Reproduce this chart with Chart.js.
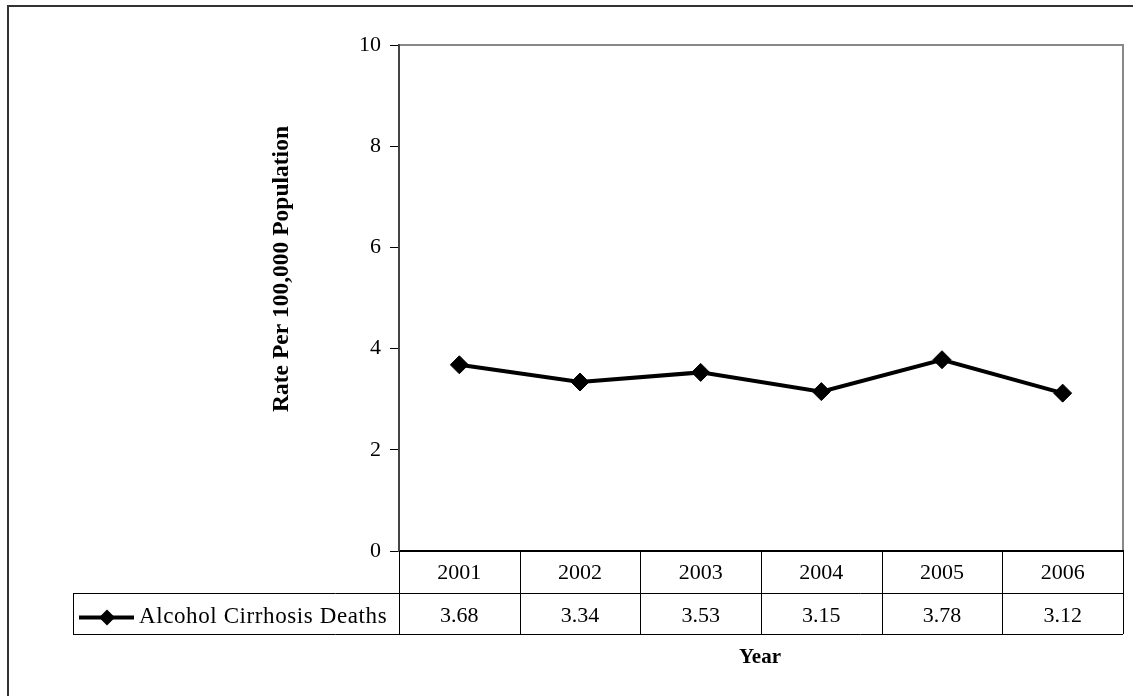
<!DOCTYPE html>
<html>
<head>
<meta charset="utf-8">
<title>Alcohol Cirrhosis Deaths</title>
<script src="https://cdn.jsdelivr.net/npm/chart.js@4/dist/chart.umd.min.js"></script>
<style>
    html, body { margin: 0; padding: 0; background: #fff; }
    canvas { display: block; }
</style>
</head>
<body>
<canvas id="deathChart" width="1133" height="696"></canvas>
<script>
// data
var years = ['2001', '2002', '2003', '2004', '2005', '2006'];
var deathRates = [3.68, 3.34, 3.53, 3.15, 3.78, 3.12];
var seriesLabel = 'Alcohol Cirrhosis Deaths';
var yTitle = 'Rate Per 100,000 Population';
var xTitle = 'Year';
var yMin = 0, yMax = 10, yStep = 2;

var serif = "'Liberation Serif', 'Times New Roman', serif";
Chart.defaults.font.family = serif;
Chart.defaults.color = '#000';

// frame, titles and the data table under the plot (Excel style)
var tablePlugin = {
    id: 'tablePlugin',
    beforeDraw: function (chart) {
        var ctx = chart.ctx;
        var area = chart.chartArea;
        ctx.save();
        // outer chart border, runs off the right and bottom edges
        ctx.strokeStyle = '#333';
        ctx.lineWidth = 2;
        ctx.strokeRect(8, 6, 1300, 900);
        // top and right plot border in grey
        ctx.strokeStyle = '#888';
        ctx.lineWidth = 2;
        ctx.beginPath();
        ctx.moveTo(area.left, area.top);
        ctx.lineTo(area.right, area.top);
        ctx.lineTo(area.right, area.bottom);
        ctx.stroke();
        ctx.restore();
    },
    afterDraw: function (chart) {
        var ctx = chart.ctx;
        var area = chart.chartArea;
        var x = chart.scales.x;
        var colW = (area.right - area.left) / years.length;
        var row1 = area.bottom;
        var row2 = row1 + 42;
        var row3 = row2 + 41;
        var legendLeft = 73;

        ctx.save();
        ctx.strokeStyle = '#000';
        ctx.lineWidth = 1;
        ctx.beginPath();
        // horizontal lines
        ctx.moveTo(legendLeft, row2 + 0.5);
        ctx.lineTo(area.right, row2 + 0.5);
        ctx.moveTo(legendLeft, row3 + 0.5);
        ctx.lineTo(area.right, row3 + 0.5);
        // legend cell left side
        ctx.moveTo(legendLeft + 0.5, row2);
        ctx.lineTo(legendLeft + 0.5, row3);
        // column separators
        for (var i = 0; i <= years.length; i++) {
            var cx = Math.round(area.left + i * colW) + 0.5;
            ctx.moveTo(cx, row1);
            ctx.lineTo(cx, row3);
        }
        ctx.stroke();

        // cell texts
        ctx.fillStyle = '#000';
        ctx.font = '22px ' + serif;
        ctx.textAlign = 'center';
        ctx.textBaseline = 'middle';
        for (var j = 0; j < years.length; j++) {
            var px = x.getPixelForValue(j);
            ctx.fillText(years[j], px, (row1 + row2) / 2 + 1);
            ctx.fillText(deathRates[j].toFixed(2), px, (row2 + row3) / 2 + 3);
        }

        // legend key
        var ky = (row2 + row3) / 2 + 4;
        ctx.lineWidth = 4;
        ctx.beginPath();
        ctx.moveTo(79, ky);
        ctx.lineTo(134, ky);
        ctx.stroke();
        ctx.beginPath();
        ctx.moveTo(107, ky - 8);
        ctx.lineTo(115, ky);
        ctx.lineTo(107, ky + 8);
        ctx.lineTo(99, ky);
        ctx.closePath();
        ctx.fill();
        ctx.font = '23px ' + serif;
        ctx.textAlign = 'left';
        ctx.letterSpacing = '0.6px';
        ctx.fillText(seriesLabel, 139, (row2 + row3) / 2 + 3);
        ctx.letterSpacing = '0px';

        // axis titles
        ctx.font = 'bold 21px ' + serif;
        ctx.textAlign = 'center';
        ctx.fillText(xTitle, 760, 658);
        ctx.translate(282, 269);
        ctx.rotate(-Math.PI / 2);
        ctx.font = 'bold 23.5px ' + serif;
        ctx.fillText(yTitle, 0, 0);
        ctx.restore();
    }
};

var ctx = document.getElementById('deathChart');
new Chart(ctx, {
    type: 'line',
    data: {
        labels: years,
        datasets: [
            {
                label: seriesLabel,
                data: deathRates,
                fill: false,
                tension: 0,
                borderColor: '#000',
                borderWidth: 4,
                pointStyle: 'rectRot',
                pointRadius: 9,
                pointBorderWidth: 1,
                pointBackgroundColor: '#000',
                pointBorderColor: '#000'
            }
        ]
    },
    options: {
        responsive: false,
        animation: false,
        devicePixelRatio: 1,
        layout: {
            padding: { top: 45, right: 10, bottom: 145, left: 0 }
        },
        plugins: {
            legend: { display: false },
            tooltip: { enabled: false }
        },
        scales: {
            x: {
                offset: true,
                ticks: { display: false },
                grid: { display: false },
                border: { color: '#000', width: 2 },
                afterFit: function (scale) { scale.height = 0; }
            },
            y: {
                min: yMin,
                max: yMax,
                ticks: {
                    stepSize: yStep,
                    padding: 9,
                    font: { size: 22 }
                },
                grid: {
                    drawOnChartArea: false,
                    tickLength: 9,
                    color: '#000'
                },
                border: { color: '#444', width: 2 },
                afterFit: function (scale) { scale.width = 399; }
            }
        }
    },
    plugins: [tablePlugin]
});
</script>
</body>
</html>
